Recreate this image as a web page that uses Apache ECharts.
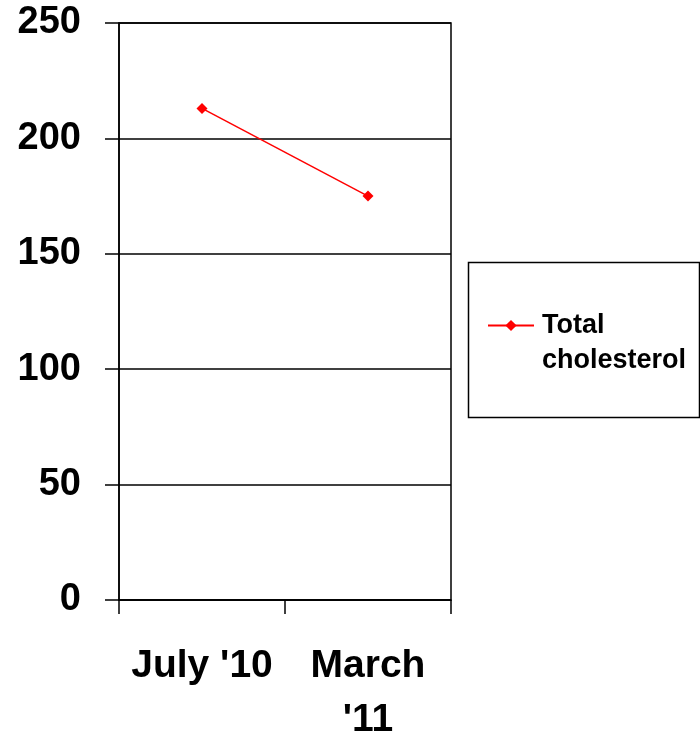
<!DOCTYPE html>
<html><head><meta charset="utf-8">
<script src="https://cdn.jsdelivr.net/npm/echarts@6/dist/echarts.min.js"></script>
<style>html,body{margin:0;padding:0;background:#fff}#c{width:700px;height:734px}</style>
</head><body><div id="c"></div>
<script>
const categories = ["July '10", "March\n'11"];
const seriesName = "Total cholesterol";
const values = [213, 175];
const yMin = 0, yMax = 250, yInterval = 50;

const chart = echarts.init(document.getElementById('c'));
chart.setOption({
  animation: false,
  backgroundColor: '#fff',
  grid: { left: 119, right: 249, top: 23, bottom: 134, show: true, borderColor: '#000', borderWidth: 1.5, outerBoundsMode: 'none', containLabel: false },
  xAxis: {
    type: 'category', data: categories, boundaryGap: true,
    axisLine: { lineStyle: { color: '#000', width: 1.5 } },
    axisTick: { show: true, length: 14, alignWithLabel: false, lineStyle: { color: '#000', width: 1.5 } },
    axisLabel: { color: '#000', fontFamily: 'Liberation Sans, Arial', fontWeight: 'bold', fontSize: 39, lineHeight: 54, margin: 39, interval: 0 }
  },
  yAxis: {
    type: 'value', min: yMin, max: yMax, interval: yInterval,
    axisLine: { show: true, lineStyle: { color: '#000', width: 1.5 } },
    axisTick: { show: true, length: 14, lineStyle: { color: '#000', width: 1.5 } },
    splitLine: { show: true, lineStyle: { color: '#000', width: 1.5 } },
    axisLabel: { color: '#000', fontFamily: 'Liberation Sans, Arial', fontWeight: 'bold', fontSize: 38, margin: 38, padding: [6, 0, 0, 0] }
  },
  legend: {
    left: 482, top: 268, orient: 'vertical',
    itemWidth: 46, itemHeight: 14,
    data: [seriesName],
    formatter: function () { return ' \nTotal\ncholesterol'; },
    textStyle: { color: '#000', fontFamily: 'Liberation Sans, Arial', fontWeight: 'bold', fontSize: 27, lineHeight: 35, padding: [0, 0, 0, 3] }
  },
  graphic: [{
    type: 'rect', shape: { x: 468.5, y: 262.5, width: 231, height: 155 },
    style: { fill: 'none', stroke: '#000', lineWidth: 1.5 }, z: 0
  }],
  series: [{
    name: seriesName, type: 'line', data: values,
    symbol: 'diamond', symbolSize: 11,
    lineStyle: { color: '#ff0000', width: 1.5 },
    itemStyle: { color: '#ff0000' }
  }]
});
</script></body></html>
